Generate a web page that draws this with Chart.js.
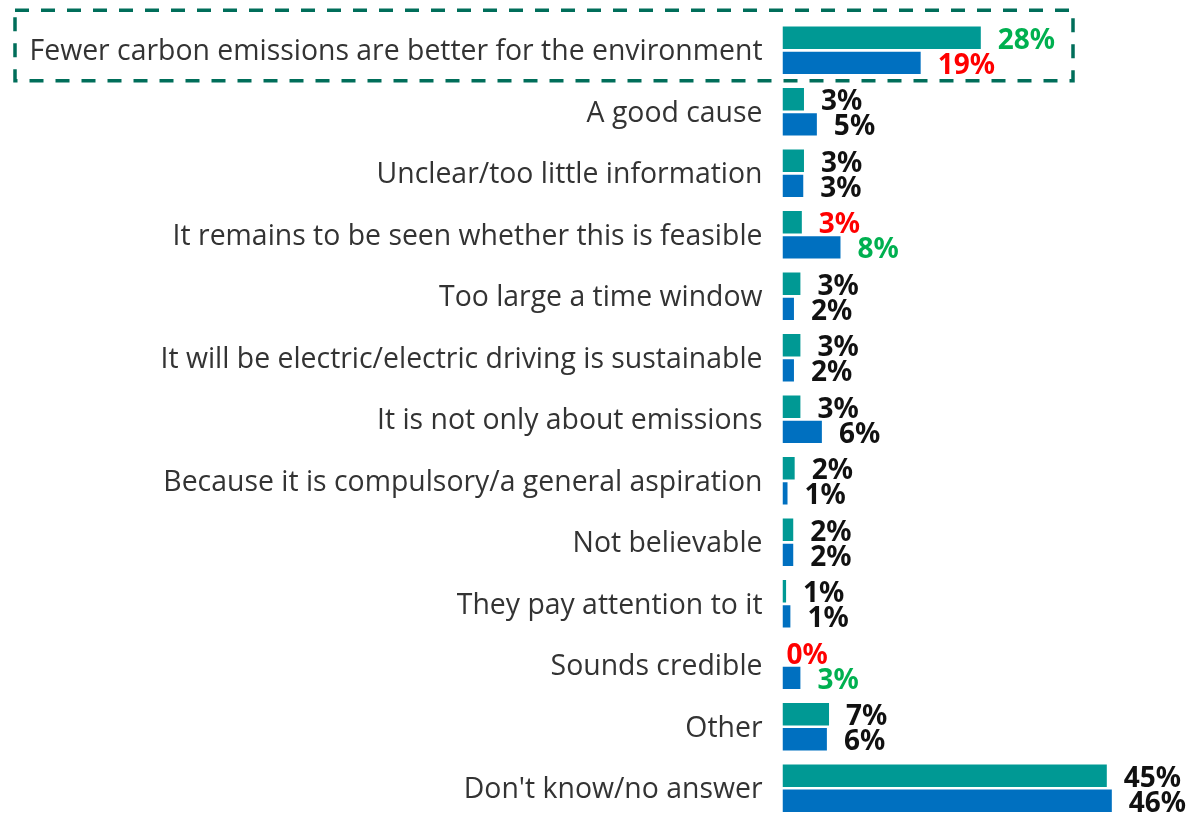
<!DOCTYPE html>
<html>
<head>
<meta charset="utf-8">
<script src="https://cdn.jsdelivr.net/npm/chart.js@4"></script>
<style>
  html, body { margin: 0; padding: 0; background: #fff; overflow: hidden; }
  #wrap { position: relative; width: 1192px; height: 819px; }
</style>
</head>
<body>
<div id="wrap"><canvas id="chart"></canvas></div>
<script>
// Reasons given (share of respondents, %)
const categories = [
  "Fewer carbon emissions are better for the environment",
  "A good cause",
  "Unclear/too little information",
  "It remains to be seen whether this is feasible",
  "Too large a time window",
  "It will be electric/electric driving is sustainable",
  "It is not only about emissions",
  "Because it is compulsory/a general aspiration",
  "Not believable",
  "They pay attention to it",
  "Sounds credible",
  "Other",
  "Don't know/no answer"
];
const seriesA = [27.7, 3.0, 3.0, 2.7, 2.5, 2.5, 2.5, 1.7, 1.5, 0.5, 0, 6.5, 45.3];
const seriesB = [19.3, 4.8, 2.9, 8.1, 1.6, 1.6, 5.5, 0.7, 1.5, 1.1, 2.5, 6.2, 46.0];
// significant difference versus the other group: 1 = higher, -1 = lower, 0 = none
const signifA = [1, 0, 0, -1, 0, 0, 0, 0, 0, 0, -1, 0, 0];
const signifB = [-1, 0, 0, 1, 0, 0, 0, 0, 0, 0, 1, 0, 0];

const TEAL = '#009994';
const BLUE = '#0070c0';
const labelColor = s => s > 0 ? '#00b050' : (s < 0 ? '#ff0000' : '#111111');

const valueLabels = {
  id: 'valueLabels',
  afterDatasetsDraw(chart) {
    const ctx = chart.ctx;
    ctx.save();
    ctx.font = 'bold 28px "Noto Sans", "Open Sans", sans-serif';
    ctx.textBaseline = 'middle';
    ctx.textAlign = 'left';
    const sig = [signifA, signifB];
    chart.data.datasets.forEach((ds, di) => {
      const meta = chart.getDatasetMeta(di);
      meta.data.forEach((el, i) => {
        const v = ds.data[i];
        const off = v === 0 ? 4 : 17;
        ctx.fillStyle = labelColor(sig[di][i]);
        ctx.fillText(Math.round(v) + '%', el.x + off, el.y + 3);
      });
    });
    ctx.restore();
  }
};

const highlightBox = {
  id: 'highlightBox',
  afterDraw(chart) {
    const ctx = chart.ctx;
    const y0 = chart.scales.y.getPixelForValue(0);
    ctx.save();
    ctx.strokeStyle = '#006e5a';
    ctx.lineWidth = 3.5;
    ctx.setLineDash([14, 12]);
    ctx.strokeRect(15, y0 - 40, 1058, 70.5);
    ctx.restore();
  }
};

new Chart(document.getElementById('chart'), {
  type: 'bar',
  data: {
    labels: categories,
    datasets: [
      { label: 'A', data: seriesA, backgroundColor: TEAL },
      { label: 'B', data: seriesB, backgroundColor: BLUE }
    ]
  },
  options: {
    indexAxis: 'y',
    responsive: true,
    maintainAspectRatio: false,
    animation: false,
    categoryPercentage: 0.817,
    barPercentage: 0.892,
    layout: { padding: { top: 19.6, right: 0, bottom: 0, left: 0 } },
    plugins: { legend: { display: false }, tooltip: { enabled: false } },
    scales: {
      x: {
        display: false,
        min: 0,
        max: 57.2
      },
      y: {
        grid: { display: false, drawTicks: false },
        border: { display: false },
        ticks: {
          color: '#333333',
          padding: 20,
          labelOffset: 2,
          font: { family: '"Open Sans", "Noto Sans", sans-serif', size: 28.4 }
        },
        afterFit(scale) {
          scale.width = 782.5;
          scale.paddingTop = 0;
          scale.paddingBottom = 0;
        }
      }
    }
  },
  plugins: [valueLabels, highlightBox]
});
</script>
</body>
</html>
